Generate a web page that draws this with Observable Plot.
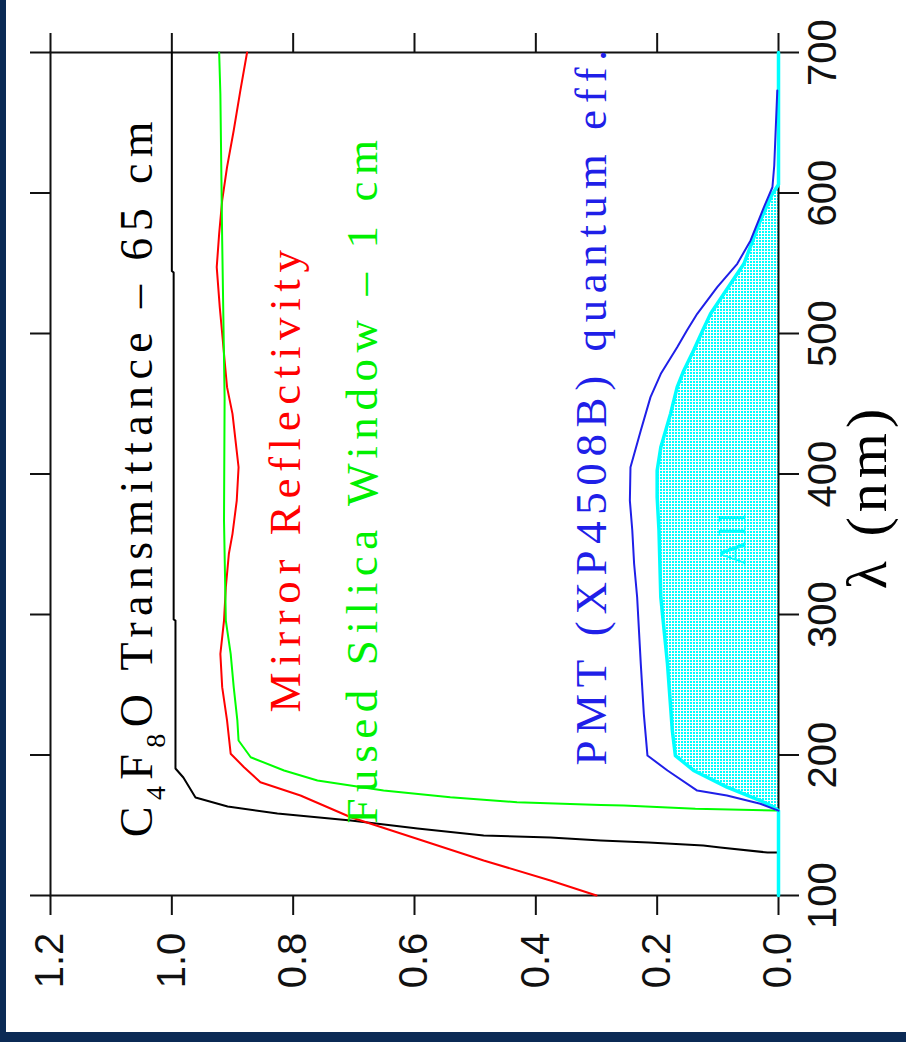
<!DOCTYPE html>
<html><head><meta charset="utf-8">
<script src="https://cdn.jsdelivr.net/npm/d3@7"></script>
<script src="https://cdn.jsdelivr.net/npm/@observablehq/plot@0.6"></script>
<style>
html,body{margin:0;padding:0;background:#0b2a55;width:906px;height:1042px;overflow:hidden}
#chart{position:absolute;left:6px;top:0;width:900px;height:1032px;background:#fff}
</style></head>
<body><div id="chart"></div>
<script>
// tick values
const wavelengthTicks = [100, 200, 300, 400, 500, 600, 700];
const valueTicks = [0, 0.2, 0.4, 0.6, 0.8, 1.0, 1.2];

// series: [wavelength (nm), value]
const c4f8oTransmittance = [[130.6,0.0],[130.6,0.018],[134.2,0.096],[135.6,0.124],[137.7,0.214],[139.1,0.293],[141.3,0.376],[142.7,0.486],[147.7,0.595],[153.4,0.705],[158.4,0.826],[163.4,0.908],[169.8,0.961],[184.0,0.981],[190.4,0.994],[295.7,0.994],[296.5,0.997],[543.4,0.997],[544.5,1.0],[700,1.0]];
const mirrorReflectivity = [[100,0.300],[110.7,0.376],[124.9,0.486],[140.4,0.596],[155.7,0.705],[171.2,0.788],[180.6,0.854],[191.3,0.881],[200.9,0.903],[224.6,0.909],[248.3,0.917],[272,0.920],[295.7,0.914],[319.4,0.911],[343.2,0.906],[357.4,0.900],[381.1,0.893],[404.8,0.890],[423.8,0.895],[442.8,0.900],[461.8,0.909],[480.8,0.913],[500,0.917],[518.7,0.921],[547.2,0.926],[571,0.922],[594.7,0.917],[618.4,0.909],[644.5,0.898],[673,0.887],[700,0.876]];
const fusedSilica = [[160.4,0.0],[160.5,0.005],[161.7,0.137],[164.1,0.255],[164.4,0.293],[166.4,0.431],[170.0,0.541],[174.7,0.651],[181.9,0.760],[189.0,0.815],[198.4,0.870],[210.3,0.890],[224.6,0.892],[248.3,0.898],[272,0.903],[295.7,0.911],[366.9,0.914],[453.7,0.913],[566.2,0.917],[670.6,0.920],[700,0.922]];
const pmtQuantumEff = [[160.4,0.0],[161.7,0.008],[165.3,0.030],[171.2,0.085],[174.7,0.134],[189.0,0.183],[199.6,0.216],[229.3,0.222],[264.9,0.227],[312.3,0.233],[336.1,0.238],[359.8,0.241],[381.1,0.245],[404.8,0.244],[431.0,0.227],[454.7,0.211],[471.3,0.194],[490.2,0.167],[502.1,0.151],[514.0,0.134],[533.0,0.101],[549.6,0.068],[566.2,0.046],[589.9,0.024],[604.1,0.010],[619.6,0.007],[673.0,0.002]];
const allCombined = [[100,0],[160.4,0],[162.9,0.008],[167.6,0.030],[177.1,0.085],[189.0,0.140],[199.6,0.170],[217.4,0.175],[264.9,0.183],[312.3,0.194],[359.8,0.197],[383.5,0.200],[402.5,0.200],[419.1,0.194],[442.8,0.178],[461.8,0.167],[473.7,0.156],[487.9,0.140],[502.1,0.125],[514.0,0.112],[528.3,0.090],[549.6,0.057],[580.4,0.030],[599.4,0.010],[606,0],[700,0]];

// text labels
const titleText = "C4F8O Transmittance – 65 cm";
const titleLabel = [{text: titleText, l: 141.5, v: 1.0335}];
const seriesLabels = [
  {text: "Mirror Reflectivity", l: 230.2, v: 0.788, color: "#ff0000"},
  {text: "Fused Silica Window – 1 cm", l: 151.2, v: 0.6626, color: "#00f000"},
  {text: "PMT (XP4508B) quantum eff.", l: 192.5, v: 0.285, color: "#1f1fe8"}
];
const allLabel = [{text: "All", l: 354.4, v: 0.0544}];
const axisTitle = [{text: "λ (nm)", l: 384, v: -0.1764}];

const toObj = arr => arr.map(([l, v]) => ({l, v}));
const serif = "Liberation Serif, Times New Roman, serif";
const sans = "Liberation Sans, Arial, sans-serif";
const ink = "#111";
const areaColor = "#80fffe";

const svg = Plot.plot({
  width: 900, height: 1032,
  marginLeft: 44, marginRight: 128, marginTop: 52, marginBottom: 137,
  x: {domain: [0, 1.2], reverse: true},
  y: {domain: [100, 700]},
  style: {background: "transparent", overflow: "visible"},
  marks: [
    Plot.areaX(toObj(allCombined), {y: "l", x1: 0, x2: "v", fill: areaColor}),
    Plot.axisX({ticks: valueTicks, anchor: "bottom", tickSize: 20, fill: "none", stroke: ink, strokeWidth: 2}),
    Plot.axisX({ticks: valueTicks, anchor: "top", tickSize: 20, fill: "none", stroke: ink, strokeWidth: 2}),
    Plot.axisY({ticks: wavelengthTicks, anchor: "left", tickSize: 20, fill: "none", stroke: ink, strokeWidth: 2}),
    Plot.axisY({ticks: wavelengthTicks, anchor: "right", tickSize: 20, fill: "none", stroke: ink, strokeWidth: 2}),
    Plot.frame({stroke: ink, strokeWidth: 2}),
    Plot.text(wavelengthTicks, {y: d => d, text: d => String(d), frameAnchor: "right", dx: 57, rotate: -90,
      textAnchor: "middle", lineAnchor: "bottom", fontFamily: sans, fontSize: 40, fill: ink}),
    Plot.text(valueTicks, {x: d => d, text: d => d.toFixed(1), frameAnchor: "bottom", dy: 65, rotate: -90,
      textAnchor: "middle", lineAnchor: "middle", fontFamily: sans, fontSize: 40, fill: ink}),
    Plot.line(toObj(c4f8oTransmittance), {x: "v", y: "l", stroke: "#000", strokeWidth: 2}),
    Plot.line(toObj(mirrorReflectivity), {x: "v", y: "l", stroke: "#ff0000", strokeWidth: 2}),
    Plot.line(toObj(fusedSilica), {x: "v", y: "l", stroke: "#00ff00", strokeWidth: 2}),
    Plot.line(toObj(allCombined), {x: "v", y: "l", stroke: "#00ffff", strokeWidth: 3.5}),
    Plot.line(toObj(pmtQuantumEff), {x: "v", y: "l", stroke: "#1f1fe8", strokeWidth: 2}),
    Plot.text(titleLabel, {x: "v", y: "l", text: "text", rotate: -90, textAnchor: "start", lineAnchor: "bottom",
      fontFamily: serif, fontSize: 46, fill: "#000"}),
    Plot.text(seriesLabels, {x: "v", y: "l", text: "text", fill: "color", rotate: -90, textAnchor: "start", lineAnchor: "bottom",
      fontFamily: serif, fontSize: 45}),
    Plot.text(allLabel, {x: "v", y: "l", text: "text", rotate: -90, textAnchor: "middle", lineAnchor: "bottom",
      fontFamily: serif, fontSize: 38, fill: "#00ffff"}),
    Plot.text(axisTitle, {x: "v", y: "l", text: "text", rotate: -90, textAnchor: "middle", lineAnchor: "bottom",
      fontFamily: serif, fontSize: 58, fill: "#000"})
  ]
});

const ns = "http://www.w3.org/2000/svg";

// dotted fill pattern for the combined efficiency area
const defs = document.createElementNS(ns, "defs");
const pat = document.createElementNS(ns, "pattern");
pat.setAttribute("id", "dotfill"); pat.setAttribute("x", "0"); pat.setAttribute("y", "0");
pat.setAttribute("width", "3"); pat.setAttribute("height", "3");
pat.setAttribute("patternUnits", "userSpaceOnUse");
const bg = document.createElementNS(ns, "rect");
bg.setAttribute("x", "0"); bg.setAttribute("y", "0");
bg.setAttribute("width", "3"); bg.setAttribute("height", "3"); bg.setAttribute("fill", "#ffffff");
const dot = document.createElementNS(ns, "rect");
dot.setAttribute("x", "0"); dot.setAttribute("y", "0");
dot.setAttribute("width", "2"); dot.setAttribute("height", "2"); dot.setAttribute("fill", "#00ffff");
pat.appendChild(bg); pat.appendChild(dot); defs.appendChild(pat);
svg.insertBefore(defs, svg.firstChild);
svg.querySelectorAll(`[fill="${areaColor}"]`).forEach(el => el.setAttribute("fill", "url(#dotfill)"));

// letter spacing of the annotation texts
const spacing = new Map([[titleText, 6.4], ["λ (nm)", 5], ["All", 3]]);
seriesLabels.forEach(d => spacing.set(d.text, 6.6));
svg.querySelectorAll("text").forEach(el => {
  const s = spacing.get(el.textContent);
  if (s !== undefined) el.setAttribute("letter-spacing", s);
});

// subscripts in the title (C4F8O)
svg.querySelectorAll("text").forEach(t => {
  if (t.textContent !== titleText) return;
  t.textContent = "C";
  const parts = [["4", 13, 28], ["F", -13, null], ["8", 13, 28], [titleText.slice(4), -13, null]];
  for (const [s, dy, fs] of parts) {
    const sp = document.createElementNS(ns, "tspan");
    sp.setAttribute("dy", dy);
    if (fs) sp.setAttribute("font-size", fs);
    sp.textContent = s;
    t.appendChild(sp);
  }
});

document.getElementById("chart").appendChild(svg);
</script>
</body></html>
